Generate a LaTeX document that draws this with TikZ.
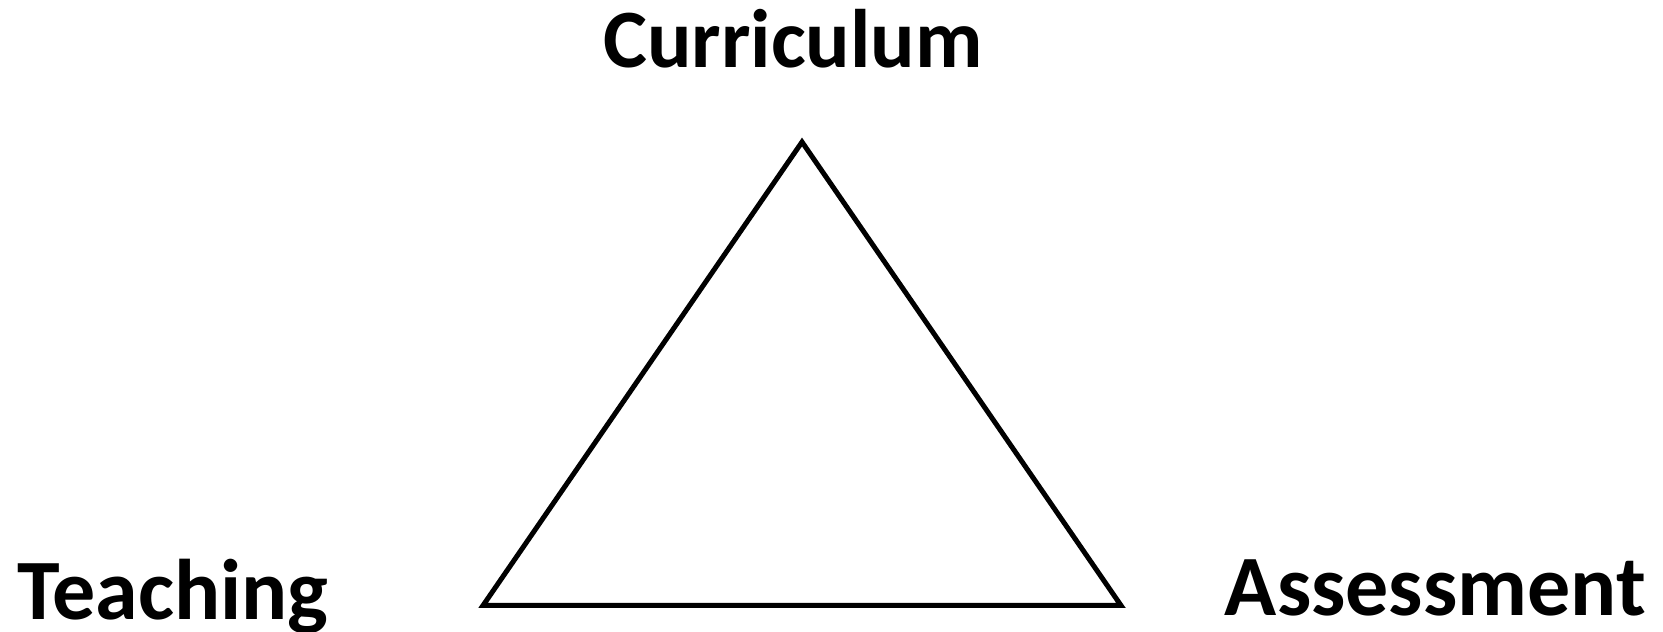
\documentclass[tikz,border=0pt]{standalone}
\usepackage{fontspec}
\setmainfont{Carlito}
\usetikzlibrary{positioning}

\begin{document}
\begin{tikzpicture}[x=0.5pt, y=0.5pt,
    corner/.style={anchor=base, inner sep=0pt,
                   font=\fontsize{43}{52}\selectfont\bfseries},
    edge/.style={line width=2.5pt}]
  \useasboundingbox (0,0) rectangle (1663,631);
  % triangle
  \coordinate (apex) at (802,489);
  \coordinate (bl) at (483,25.5);
  \coordinate (br) at (1121,25.5);
  \draw[edge] (apex) -- (bl) -- (br) -- cycle;
  % labels
  \node[corner, font=\fontsize{41.5}{50}\selectfont\bfseries] (curriculum)
    at (793,563) {Curriculum};
  \node[corner] (teaching) at (173,11) {Teaching};
  \node[corner] (assessment) at (1435.5,15) {Assessment};
\end{tikzpicture}
\end{document}
